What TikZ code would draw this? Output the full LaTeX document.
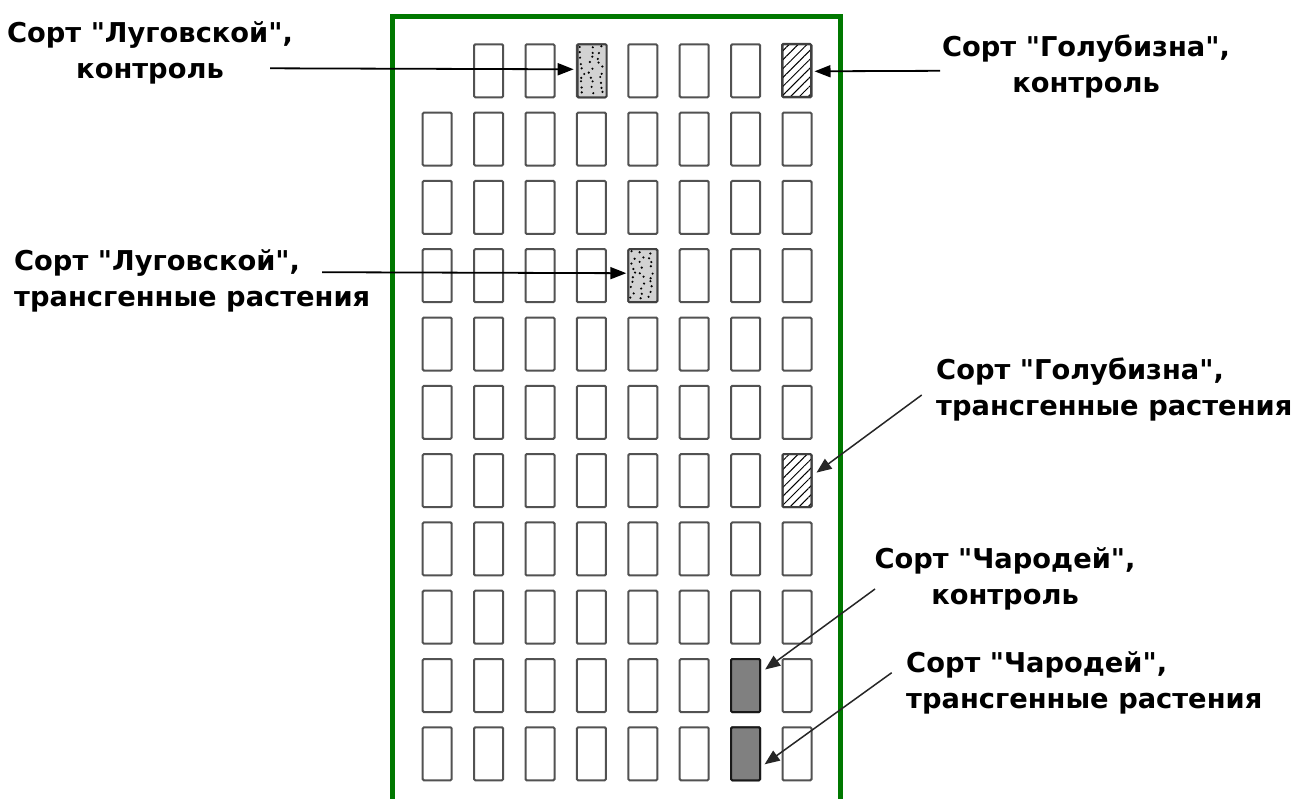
\documentclass[tikz,border=0pt]{standalone}
\usepackage{fontspec}
\setmainfont{Liberation Sans}
\newfontfamily\lblfont{DejaVu Sans}
\usetikzlibrary{arrows.meta,patterns.meta,calc}
\definecolor{framegreen}{RGB}{0,120,0}
\definecolor{dotfill}{RGB}{210,210,210}
\definecolor{darkfill}{RGB}{128,128,128}
\tikzset{
  plot/.style={draw=black!68, line width=2pt, rounded corners=1.2pt, fill=white,
    minimum width=29pt, minimum height=53pt, inner sep=0pt, anchor=north west},
  dotted plot/.style={plot, fill=dotfill, draw=black!75},
  hatched plot/.style={plot, draw=black!75, pattern={Lines[angle=45,distance=6.3pt,line width=1pt]}},
  dark plot/.style={plot, fill=darkfill, draw=black!90},
  lbl/.style={font=\lblfont\fontsize{27.3}{36}\selectfont\bfseries, inner sep=0pt},
  arr/.style={-{Triangle[length=16pt,width=12pt]}, line width=1.8pt, black},
  darr/.style={-{Triangle[length=15pt,width=12pt]}, line width=1.5pt, black!85},
}
\begin{document}
\begin{tikzpicture}[x=1pt,y=-1pt]
\useasboundingbox (0,0) rectangle (1295,798);
\clip (0,0) rectangle (1295,798);
\fill[white] (0,0) rectangle (1295,798);
% field frame
\draw[framegreen, line width=5pt] (392.5,805) -- (392.5,16.5) -- (840,16.5) -- (840,805);
% plots
\foreach \j in {0,...,10}{
  \foreach \i in {0,...,7}{
    \pgfmathsetmacro{\px}{421.7+51.4*\i}
    \pgfmathsetmacro{\py}{43.3+68.3*\j}
    \ifnum\j=0 \ifnum\i=0 \else
      \node[plot] (b-\j-\i) at (\px,\py) {};
    \fi \else
      \node[plot] (b-\j-\i) at (\px,\py) {};
    \fi
  }
}
% special plots
\node[dotted plot] (b-0-3) at (576.7,43.3) {};
\node[hatched plot] (b-0-7) at (781.5,43.3) {};
\node[dotted plot] (b-3-4) at (627.3,248.2) {};
\node[hatched plot] (b-6-7) at (781.5,453.1) {};
\node[dark plot] (b-9-6) at (730.1,658.0) {};
\node[dark plot] (b-10-6) at (730.1,726.3) {};
% jittered dots
\pgfmathsetseed{23}
\foreach \b in {b-0-3,b-3-4}{
  \begin{scope}[shift={(\b.north west)}]
    \foreach \i in {0,1,2}{
      \foreach \j in {0,...,9}{
        \pgfmathsetmacro{\dx}{5.5+\i*9+2.5*rand}
        \pgfmathsetmacro{\dy}{4.5+\j*5+1.6*rand}
        \fill[black] (\dx,\dy) circle (1.2pt);
      }
    }
  \end{scope}
}
% labels (anchored at the baseline of the last line)
\node[lbl, align=center, anchor=base] (t1) at (150,78) {Сорт "Луговской",\\контроль};
\node[lbl, align=center, anchor=base] (t2) at (1086,92) {Сорт "Голубизна",\\контроль};
\node[lbl, align=left, anchor=base west] (t3) at (14,306) {Сорт "Луговской",\\трансгенные растения};
\node[lbl, align=left, anchor=base west] (t4) at (936,415) {Сорт "Голубизна",\\трансгенные растения};
\node[lbl, align=center, anchor=base] (t5) at (1005,604) {Сорт "Чародей",\\контроль};
\node[lbl, align=left, anchor=base west] (t6) at (906,708) {Сорт "Чародей",\\трансгенные растения};
% connector start points
\coordinate (s1) at (270,68.3);
\coordinate (s2) at (940,70.8);
\coordinate (s3) at (322,272.2);
\coordinate (s4) at (921.7,395);
\coordinate (s5) at (875,589);
\coordinate (s6) at (891.7,672.7);
% connectors
\draw[arr] (s1) -- ([xshift=-3pt,yshift=1.5pt]b-0-3.west);
\draw[arr] (s2) -- ([xshift=3pt,yshift=-1pt]b-0-7.east);
\draw[arr] (s3) -- ([xshift=-1pt,yshift=2.5pt]b-3-4.west);
\draw[darr] (s4) -- ([xshift=4pt,yshift=8pt]b-6-7.east);
\draw[darr] (s5) -- ([xshift=4pt,yshift=16pt]b-9-6.east);
\draw[darr] (s6) -- ([xshift=3.5pt,yshift=-10.5pt]b-10-6.east);
\end{tikzpicture}
\end{document}
